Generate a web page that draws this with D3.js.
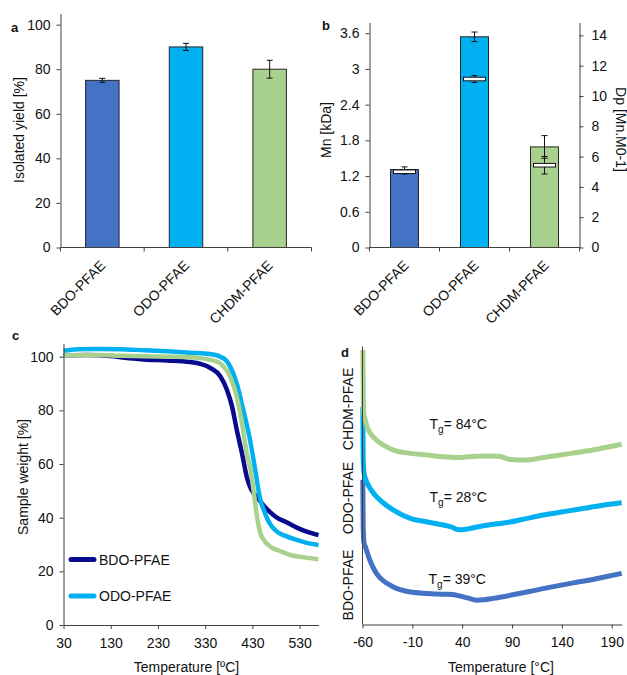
<!DOCTYPE html>
<html><head><meta charset="utf-8">
<script src="https://cdn.jsdelivr.net/npm/d3@7"></script>
<style>body{margin:0;background:#fff} text{font-family:"Liberation Sans",Arial,Helvetica,sans-serif;fill:#111}</style>
</head><body><svg id="chart" width="627" height="675"></svg>
<script>
// ---------- data ----------
const categories = ["BDO-PFAE", "ODO-PFAE", "CHDM-PFAE"];
const barColors = ["#4472C4", "#00B0F0", "#A9D18E"];
const yieldValues = [75, 90, 80];
const yieldErrors = [0.9, 1.6, 4.0];
const yieldTicks = [0, 20, 40, 60, 80, 100];
const mnValues = [1.31, 3.54, 1.69];
const mnErrors = [0.045, 0.08, 0.19];
const dpValues = [5.0, 11.12, 5.43];
const dpErrors = [0.15, 0.23, 0.58];
const mnTicks = [0, 0.6, 1.2, 1.8, 2.4, 3, 3.6];
const dpTicks = [0, 2, 4, 6, 8, 10, 12, 14];
const tgaTicksX = [30, 130, 230, 330, 430, 530];
const tgaTicksY = [0, 20, 40, 60, 80, 100];
const tgaBDO = [[30,100.5],[80,100.6],[130,100.3],[160,99.6],[200,99.0],[250,98.6],[298,98.0],[320,97.3],[341,95.8],[362,92.7],[376,87.7],[387,81.4],[397,72.7],[408,64],[418,55.3],[425,51.5],[433,49],[445,46.5],[454,44.5],[468,42],[482,40],[500,38.5],[524,36.3],[545,34.8],[570,33.5]];
const tgaODO = [[30,102.2],[60,102.8],[100,102.9],[150,102.8],[200,102.4],[250,102],[298,101.5],[340,101],[362,100],[375,98.5],[383,96.3],[397,90],[411,80],[425,69],[436,57.8],[447,46.5],[455,42.5],[461,39.8],[470,37],[482,34.8],[500,33.2],[524,31.7],[545,30.6],[570,29.8]];
const tgaCHDM = [[30,100.5],[100,100.6],[150,100.4],[200,100.2],[250,100],[298,99.8],[330,99.2],[350,98.5],[362,97.5],[375,95],[383,92.5],[397,85],[408,75.2],[418,64],[426,58],[436,45.4],[441,39],[447,34.2],[455,31.5],[468,29.2],[490,27.5],[510,26.1],[540,25.2],[570,24.5]];
const tgaColors = ["#0A0A8F", "#00B0F0", "#A9D18E"];
const tgaLegend = ["BDO-PFAE", "ODO-PFAE"];
const dscTicksX = [-60, -10, 40, 90, 140, 190];
const dscCHDM = [[-59.6,98.8],[-59.2,82],[-58.5,75.5],[-57,73.2],[-55.5,71.2],[-54,70],[-50,67.8],[-46,66.4],[-40,64.8],[-29,62.8],[-12,61.6],[5,61],[21,60.4],[38,60.1],[54,60.6],[70,60.7],[78,60.5],[88,59.4],[104,59.2],[120,60],[138,61],[155,61.9],[171,62.8],[185,63.8],[200,64.9]];
const dscODO = [[-59.7,78.4],[-59.3,60],[-58.5,54.5],[-57,52.5],[-54,50],[-50,47.8],[-46,46],[-40,44],[-29,41.2],[-12,38.2],[5,36.9],[21,35.8],[30,35],[35,34.2],[40,34.1],[47,34.5],[55,35.1],[70,36],[88,36.9],[104,38.1],[121,39.4],[138,40.4],[155,41.4],[175,42.6],[200,43.8]];
const dscBDO = [[-59.7,52],[-59.3,35],[-58.5,29.5],[-57,27.9],[-54,24.5],[-50,21],[-46,18.4],[-40,16],[-29,13.5],[-12,11.7],[5,11.2],[21,10.9],[30,10.8],[38,10.2],[48,9.3],[55,8.7],[62,8.9],[71,9.4],[88,10.5],[105,11.7],[121,12.9],[138,14.1],[155,15.2],[171,16.2],[185,17.3],[200,18.4]];
const dscColors = ["#4472C4", "#00B0F0", "#A9D18E"];
const tgLabels = ["84", "28", "39"];

// ---------- drawing ----------
const svg = d3.select("#chart");
svg.append("rect").attr("width", 627).attr("height", 675).attr("fill", "#fff");
const AX = "#404040";
const FS = 14;
const plain = d => String(d);

function styleAxis(g) {
  g.selectAll("path.domain").attr("stroke", AX).attr("stroke-width", 1);
  g.selectAll(".tick line").attr("stroke", AX);
  g.selectAll(".tick text").attr("font-size", FS).attr("fill", "#111")
    .attr("font-family", "Liberation Sans, Arial, sans-serif");
}
function panelLabel(t, x, y) {
  svg.append("text").attr("x", x).attr("y", y).attr("font-size", 13).attr("font-weight", "bold").text(t);
}
function rotLabel(t, x, y, ang) {
  svg.append("text").attr("transform", `translate(${x},${y}) rotate(${ang})`)
    .attr("text-anchor", "middle").attr("font-size", FS).text(t);
}
function categoryAxis(slot, y0, dx) {
  const g = svg.append("g");
  const [r0, r1] = slot.range();
  g.append("line").attr("x1", r0).attr("x2", r1).attr("y1", y0).attr("y2", y0).attr("stroke", AX);
  const edges = categories.map(c => slot(c)).concat([slot(categories[2]) + slot.bandwidth()]);
  edges.forEach(e => g.append("line").attr("x1", e).attr("x2", e).attr("y1", y0).attr("y2", y0 + 4).attr("stroke", AX));
  categories.forEach(c => {
    const cx = slot(c) + slot.bandwidth() / 2;
    g.append("text").attr("transform", `translate(${cx + dx},${y0 + 19}) rotate(-45)`)
      .attr("text-anchor", "end").attr("font-size", FS).text(c);
  });
}
function errBar(x, yTop, yBot, cap) {
  svg.append("line").attr("x1", x).attr("x2", x).attr("y1", yTop).attr("y2", yBot).attr("stroke", "#111");
  [yTop, yBot].forEach(y => svg.append("line").attr("x1", x - cap).attr("x2", x + cap).attr("y1", y).attr("y2", y).attr("stroke", "#111"));
}

// ----- Panel a -----
{
  const slot = d3.scaleBand().domain(categories).range([60.5, 311.5]);
  const y = d3.scaleLinear().domain([0, 105]).range([247.5, 13.5]);
  const bw = slot.bandwidth() * 0.4;
  categories.forEach((c, i) => {
    const cx = slot(c) + slot.bandwidth() / 2;
    svg.append("rect").attr("x", cx - bw / 2).attr("width", bw)
      .attr("y", y(yieldValues[i])).attr("height", y(0) - y(yieldValues[i]))
      .attr("fill", barColors[i]).attr("stroke", "#262626").attr("stroke-width", 1);
    errBar(cx, y(yieldValues[i] + yieldErrors[i]), y(yieldValues[i] - yieldErrors[i]), 3);
  });
  const ga = svg.append("g").attr("transform", "translate(60.5,0)")
    .call(d3.axisLeft(y).tickValues(yieldTicks).tickFormat(plain).tickSize(4).tickPadding(6).tickSizeOuter(0));
  styleAxis(ga);
  categoryAxis(slot, 247.5, 4);
  rotLabel("Isolated yield [%]", 23.5, 130, -90);
  panelLabel("a", 11, 32);
}

// ----- Panel b -----
{
  const slot = d3.scaleBand().domain(categories).range([369.5, 579.5]);
  const yL = d3.scaleLinear().domain([0, 3.78]).range([247.5, 22.5]);
  const yR = d3.scaleLinear().domain([0, 14.85]).range([247.5, 22.5]);
  const bw = slot.bandwidth() * 0.4;
  categories.forEach((c, i) => {
    const cx = slot(c) + slot.bandwidth() / 2;
    svg.append("rect").attr("x", cx - bw / 2).attr("width", bw)
      .attr("y", yL(mnValues[i])).attr("height", yL(0) - yL(mnValues[i]))
      .attr("fill", barColors[i]).attr("stroke", "#262626").attr("stroke-width", 1);
  });
  categories.forEach((c, i) => {
    const cx = slot(c) + slot.bandwidth() / 2;
    errBar(cx, yL(mnValues[i] + mnErrors[i]), yL(mnValues[i] - mnErrors[i]), 3);
    errBar(cx, yR(dpValues[i] + dpErrors[i]), yR(dpValues[i] - dpErrors[i]), 3);
    svg.append("rect").attr("x", cx - 11).attr("width", 22).attr("y", yR(dpValues[i]) - 1.8).attr("height", 3.6)
      .attr("fill", "#fff").attr("stroke", "#111").attr("stroke-width", 1);
  });
  const gl = svg.append("g").attr("transform", "translate(369.5,0)")
    .call(d3.axisLeft(yL).tickValues(mnTicks).tickFormat(plain).tickSize(4).tickPadding(6).tickSizeOuter(0));
  styleAxis(gl);
  const gr = svg.append("g").attr("transform", "translate(579.5,0)")
    .call(d3.axisRight(yR).tickValues(dpTicks).tickFormat(plain).tickSize(4).tickPadding(8).tickSizeOuter(0));
  styleAxis(gr);
  categoryAxis(slot, 247.5, 5);
  rotLabel("Mn [kDa]", 330.5, 130, -90);
  rotLabel("Dp [Mn.M0-1]", 615.5, 129.5, 90);
  panelLabel("b", 322, 30);
}

// ----- Panel c -----
{
  const x = d3.scaleLinear().domain([30, 570]).range([63.5, 318.5]);
  const y = d3.scaleLinear().domain([0, 105]).range([625, 343.3]);
  const line = d3.line().x(d => x(d[0])).y(d => y(d[1])).curve(d3.curveMonotoneX);
  [tgaBDO, tgaODO, tgaCHDM].forEach((s, i) => {
    svg.append("path").datum(s).attr("d", line).attr("fill", "none")
      .attr("stroke", tgaColors[i]).attr("stroke-width", 4.5).attr("stroke-linejoin", "round");
  });
  const gx = svg.append("g").attr("transform", "translate(0,625)")
    .call(d3.axisBottom(x).tickValues(tgaTicksX).tickFormat(plain).tickSize(4).tickPadding(9).tickSizeOuter(0));
  styleAxis(gx);
  const gy = svg.append("g").attr("transform", "translate(63.5,0)")
    .call(d3.axisLeft(y).tickValues(tgaTicksY).tickFormat(plain).tickSize(4).tickPadding(6).tickSizeOuter(0));
  styleAxis(gy);
  tgaLegend.forEach((t, i) => {
    const ly = 559.5 + i * 36.5;
    svg.append("line").attr("x1", 71).attr("x2", 94).attr("y1", ly).attr("y2", ly)
      .attr("stroke", tgaColors[i]).attr("stroke-width", 5).attr("stroke-linecap", "round");
    svg.append("text").attr("x", 99).attr("y", ly + 5).attr("font-size", FS).text(t);
  });
  svg.append("text").attr("x", 186.5).attr("y", 672).attr("text-anchor", "middle").attr("font-size", FS).text("Temperature [ºC]");
  rotLabel("Sample weight [%]", 28, 477, -90);
  panelLabel("c", 12, 340);
}

// ----- Panel d -----
{
  const x = d3.scaleLinear().domain([-60, 200]).range([362.5, 621.7]);
  const y = d3.scaleLinear().domain([0, 100]).range([624.5, 346.7]);
  const line = d3.line().x(d => x(d[0])).y(d => y(d[1])).curve(d3.curveMonotoneX);
  [dscBDO, dscODO, dscCHDM].forEach((s, i) => {
    svg.append("path").datum(s).attr("d", line).attr("fill", "none")
      .attr("stroke", dscColors[i]).attr("stroke-width", 5).attr("stroke-linejoin", "round");
  });
  const gx = svg.append("g").attr("transform", "translate(0,624.5)")
    .call(d3.axisBottom(x).tickValues(dscTicksX).tickFormat(plain).tickSize(4).tickPadding(9).tickSizeOuter(0));
  styleAxis(gx);
  svg.append("line").attr("x1", 362.5).attr("x2", 362.5).attr("y1", 346.7).attr("y2", 624.5).attr("stroke", AX);
  // Tg annotations
  const tgPos = [[429.5, 428.5], [429.5, 502], [428.5, 583.5]];
  tgLabels.forEach((v, i) => {
    const t = svg.append("text").attr("x", tgPos[i][0]).attr("y", tgPos[i][1]).attr("font-size", FS);
    t.append("tspan").text("T");
    t.append("tspan").attr("font-size", 10).attr("dy", 4).text("g");
    t.append("tspan").attr("dy", -4).text(`= ${v}°C`);
  });
  rotLabel("BDO-PFAE", 352.5, 585, -90);
  rotLabel("ODO-PFAE", 352.5, 498, -90);
  rotLabel("CHDM-PFAE", 352.5, 409, -90);
  svg.append("text").attr("x", 501).attr("y", 672).attr("text-anchor", "middle").attr("font-size", FS).text("Temperature [°C]");
  panelLabel("d", 341, 357);
}
</script></body></html>
